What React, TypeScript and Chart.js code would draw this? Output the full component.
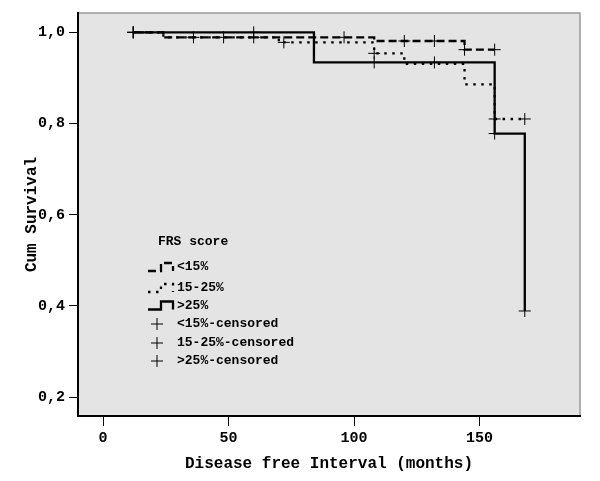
import React, { useEffect, useRef } from 'react';
import { Chart, registerables } from 'chart.js';
Chart.register(...registerables);

const FONT = '"Liberation Mono", "DejaVu Sans Mono", monospace';

const xTicks = [0, 50, 100, 150];
const yTicks = [0.2, 0.4, 0.6, 0.8, 1.0];

const legendTitle = 'FRS score';
const seriesLabels = ['<15%', '15-25%', '>25%'];
const censoredLabels = ['<15%-censored', '15-25%-censored', '>25%-censored'];

// Kaplan-Meier step curves (time in months, cumulative survival)
const lowTimes = [12, 24, 108, 144, 156];
const lowSurv = [1.0, 0.989, 0.981, 0.962, 0.962];
const midTimes = [12, 24, 70, 108, 120, 144, 156, 168];
const midSurv = [1.0, 0.989, 0.978, 0.954, 0.931, 0.886, 0.81, 0.81];
const highTimes = [12, 84, 156, 168];
const highSurv = [1.0, 0.934, 0.778, 0.389];

// Censored observations
const lowCensTimes = [12, 36, 48, 60, 96, 120, 132, 144, 156];
const lowCensSurv = [1.0, 0.989, 0.989, 0.989, 0.989, 0.981, 0.981, 0.962, 0.962];
const midCensTimes = [12, 72, 108, 156, 168];
const midCensSurv = [1.0, 0.978, 0.954, 0.81, 0.81];
const highCensTimes = [12, 60, 108, 132, 156, 168];
const highCensSurv = [1.0, 1.0, 0.934, 0.934, 0.778, 0.389];

const toPts = (t: number[], s: number[]) => t.map((v, i) => ({ x: v, y: s[i] }));

const dashes: number[][] = [[8, 4], [2.5, 5.5], []];

const bgPlugin = {
  id: 'kmBg',
  beforeDraw(chart: any) {
    const { ctx, chartArea: a, width, height } = chart;
    ctx.save();
    ctx.fillStyle = '#ffffff';
    ctx.fillRect(0, 0, width, height);
    ctx.fillStyle = '#e4e4e4';
    ctx.fillRect(a.left, a.top, a.right - a.left, a.bottom - a.top);
    ctx.strokeStyle = '#9a9a9a';
    ctx.lineWidth = 1.5;
    ctx.beginPath();
    ctx.moveTo(a.left, a.top);
    ctx.lineTo(a.right, a.top);
    ctx.lineTo(a.right, a.bottom);
    ctx.stroke();
    ctx.restore();
  },
};

const legendPlugin = {
  id: 'kmLegend',
  afterDatasetsDraw(chart: any) {
    const { ctx, chartArea: a } = chart;
    const L = a.left;
    const T = a.top;
    ctx.save();
    ctx.fillStyle = '#000';
    ctx.strokeStyle = '#000';
    ctx.textBaseline = 'middle';
    ctx.textAlign = 'left';
    ctx.font = `bold 13px ${FONT}`;
    ctx.fillText(legendTitle, L + 80, T + 229);
    const rows = [254, 275, 292.5];
    seriesLabels.forEach((lab, i) => {
      const y = T + rows[i];
      ctx.save();
      ctx.lineWidth = 2.3;
      ctx.setLineDash(dashes[i]);
      ctx.lineCap = 'butt';
      ctx.beginPath();
      ctx.moveTo(L + 70, y + 4);
      ctx.lineTo(L + 83, y + 4);
      ctx.lineTo(L + 83, y - 4);
      ctx.lineTo(L + 95, y - 4);
      ctx.lineTo(L + 95, y + 4);
      ctx.stroke();
      ctx.restore();
      ctx.fillText(lab, L + 99, y);
    });
    const crows = [311, 330, 348];
    censoredLabels.forEach((lab, i) => {
      const y = T + crows[i];
      const cx = L + 79;
      ctx.lineWidth = 1;
      ctx.setLineDash([]);
      ctx.beginPath();
      ctx.moveTo(cx - 6, y);
      ctx.lineTo(cx + 6, y);
      ctx.moveTo(cx, y - 6);
      ctx.lineTo(cx, y + 6);
      ctx.stroke();
      ctx.fillText(lab, L + 99, y);
    });
    ctx.restore();
  },
};

export default function App() {
  const ref = useRef<HTMLCanvasElement | null>(null);
  useEffect(() => {
    if (!ref.current) return;
    const line = (label: string, pts: any[], i: number) => ({
      type: 'line' as const,
      label,
      data: pts,
      stepped: true,
      borderColor: '#000',
      borderWidth: 2.3,
      borderDash: dashes[i],
      borderCapStyle: 'butt' as const,
      pointRadius: 0,
      fill: false,
    });
    const cens = (label: string, pts: any[]) => ({
      type: 'scatter' as const,
      label,
      data: pts,
      showLine: false,
      pointStyle: 'cross' as const,
      pointRadius: 6,
      pointBorderWidth: 1,
      borderColor: '#000',
      backgroundColor: '#000',
    });
    const chart = new Chart(ref.current, {
      type: 'line',
      data: {
        datasets: [
          line(seriesLabels[0], toPts(lowTimes, lowSurv), 0),
          line(seriesLabels[1], toPts(midTimes, midSurv), 1),
          line(seriesLabels[2], toPts(highTimes, highSurv), 2),
          cens(censoredLabels[0], toPts(lowCensTimes, lowCensSurv)),
          cens(censoredLabels[1], toPts(midCensTimes, midCensSurv)),
          cens(censoredLabels[2], toPts(highCensTimes, highCensSurv)),
        ] as any,
      },
      options: {
        animation: false,
        responsive: false,
        devicePixelRatio: 1,
        layout: { padding: { top: 10, right: 20, left: 0, bottom: 0 } },
        plugins: { legend: { display: false }, tooltip: { enabled: false } },
        scales: {
          x: {
            type: 'linear',
            min: -10,
            max: 190,
            afterBuildTicks: (s: any) => {
              s.ticks = xTicks.map((v) => ({ value: v }));
            },
            afterFit: (s: any) => {
              s.height = 65;
            },
            grid: { display: true, drawOnChartArea: false, drawTicks: true, tickLength: 10, color: '#000', lineWidth: 1 },
            border: { display: true, color: '#000', width: 2 },
            ticks: {
              color: '#000',
              padding: 3,
              maxRotation: 0,
              font: { family: FONT, size: 15, weight: 'bold' },
              callback: (v: any) => String(v),
            },
            title: {
              display: true,
              text: 'Disease free Interval (months)',
              color: '#000',
              font: { family: FONT, size: 16, weight: 'bold' },
              padding: { top: 0, bottom: 7 },
            },
          },
          y: {
            type: 'linear',
            min: 0.1587,
            max: 1.0424,
            afterBuildTicks: (s: any) => {
              s.ticks = yTicks.map((v) => ({ value: v }));
            },
            afterFit: (s: any) => {
              s.width = 78;
            },
            grid: { display: true, drawOnChartArea: false, drawTicks: true, tickLength: 9, color: '#000', lineWidth: 1 },
            border: { display: true, color: '#000', width: 2 },
            ticks: {
              color: '#000',
              padding: 4,
              font: { family: FONT, size: 15, weight: 'bold' },
              callback: (v: any) => Number(v).toFixed(1).replace('.', ','),
            },
            title: {
              display: true,
              text: 'Cum Survival',
              color: '#000',
              font: { family: FONT, size: 16, weight: 'bold' },
              padding: { top: 22, bottom: 0 },
            },
          },
        },
      } as any,
      plugins: [bgPlugin, legendPlugin],
    });
    return () => chart.destroy();
  }, []);
  return (
    <div style={{ position: 'absolute', left: 0, top: 0, width: 600, height: 481 }}>
      <canvas ref={ref} width={600} height={481} />
    </div>
  );
}
